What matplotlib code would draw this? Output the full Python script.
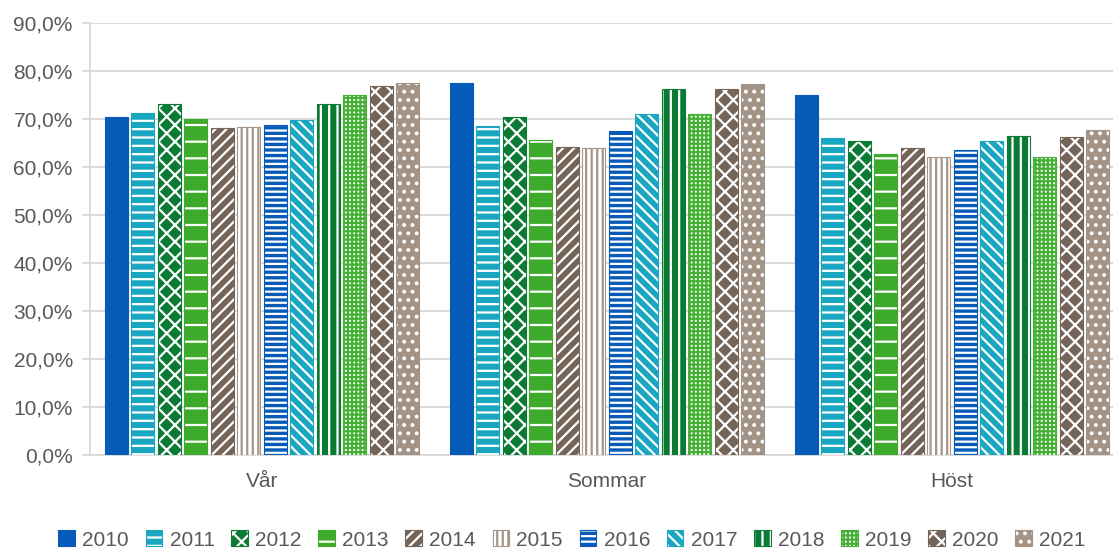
import matplotlib.pyplot as plt
import matplotlib.patches as patches
from matplotlib.legend_handler import HandlerTuple
import numpy as np

plt.rcParams['font.family'] = ['Liberation Sans', 'DejaVu Sans']
plt.rcParams['hatch.linewidth'] = 1.6

seasons = ['Vår', 'Sommar', 'Höst']
years = ['2010', '2011', '2012', '2013', '2014', '2015',
         '2016', '2017', '2018', '2019', '2020', '2021']

# andel (%) per säsong, en rad per år
values = {
    '2010': [70.5, 77.4, 74.9],
    '2011': [71.2, 68.5, 66.0],
    '2012': [73.1, 70.4, 65.5],
    '2013': [70.1, 65.6, 62.7],
    '2014': [68.1, 64.2, 64.0],
    '2015': [68.3, 63.9, 62.1],
    '2016': [68.7, 67.6, 63.6],
    '2017': [69.7, 71.0, 65.5],
    '2018': [73.1, 76.2, 66.4],
    '2019': [75.1, 71.0, 62.1],
    '2020': [76.9, 76.2, 66.3],
    '2021': [77.4, 77.2, 67.8],
}

# (bakgrund, mönsterfärg, kant, mönster)
styles = {
    '2010': ('#065BB9', '#065BB9', '#065BB9', ''),
    '2011': ('#19A6C0', 'white', '#19A6C0', '--'),
    '2012': ('#0B7A35', 'white', '#0B7A35', 'xx'),
    '2013': ('#3DAA2B', 'white', '#3DAA2B', '-'),
    '2014': ('#756559', 'white', '#756559', '///'),
    '2015': ('white', '#A5968A', '#A5968A', '|||'),
    '2016': ('#065BB9', 'white', '#065BB9', '---'),
    '2017': ('#19A6C0', 'white', '#19A6C0', '\\\\\\'),
    '2018': ('#0B7A35', 'white', '#0B7A35', '||'),
    '2019': ('white', '#45B035', '#45B035', '++++'),
    '2020': ('#756559', 'white', '#756559', 'xx'),
    '2021': ('#A39386', 'white', '#A39386', '..'),
}

grey = '#595959'
fig = plt.figure(figsize=(11.13, 5.5), dpi=100)
ax = fig.add_axes([89.5 / 1113, 1 - 455 / 550, 1035 / 1113, 432 / 550])

x = np.arange(len(seasons))
pitch = 0.0768
width = 0.0658
handles = []
for i, y in enumerate(years):
    bg, hc, ec, h = styles[y]
    pos = x + (i - 5.5) * pitch
    # mönsterlager (hatch tar kantfärgen) + separat kontur
    ax.bar(pos, values[y], width, facecolor=bg, edgecolor=hc,
           hatch=h, linewidth=0, zorder=3)
    ax.bar(pos, values[y], width, fill=False, edgecolor=ec,
           linewidth=0.8, zorder=4)
    p1 = patches.Patch(facecolor=bg, edgecolor=hc, hatch=h, linewidth=0)
    p2 = patches.Patch(fill=False, edgecolor=ec, linewidth=0.8)
    handles.append((p1, p2))

ax.set_xlim(-0.5, 2.5)
ax.set_ylim(0, 90)
ax.set_yticks(np.arange(0, 91, 10))
ax.set_yticklabels([f'{v:.1f}%'.replace('.', ',') for v in np.arange(0, 91, 10)])
ax.set_xticks(x)
ax.set_xticklabels(seasons)
ax.grid(axis='y', color='#D9D9D9', linewidth=1.3, zorder=0)
for s in ['top', 'right']:
    ax.spines[s].set_visible(False)
for s in ['left', 'bottom']:
    ax.spines[s].set_color('#D9D9D9')
    ax.spines[s].set_linewidth(1.3)
ax.tick_params(axis='y', length=6, width=1.3, color='#D9D9D9', pad=6,
               labelsize=15, labelcolor=grey)
ax.tick_params(axis='x', length=0, pad=12, labelsize=15, labelcolor=grey)

fig.legend(handles=handles, labels=years, handler_map={tuple: HandlerTuple(ndivide=1)},
           loc='center', bbox_to_anchor=(572 / 1113, 1 - 540 / 550),
           ncol=12, frameon=False, fontsize=15, labelcolor=grey,
           handlelength=0.8, handleheight=0.8, handletextpad=0.35,
           columnspacing=0.8, borderaxespad=0, borderpad=0)

fig.savefig('out.png', dpi=100)
